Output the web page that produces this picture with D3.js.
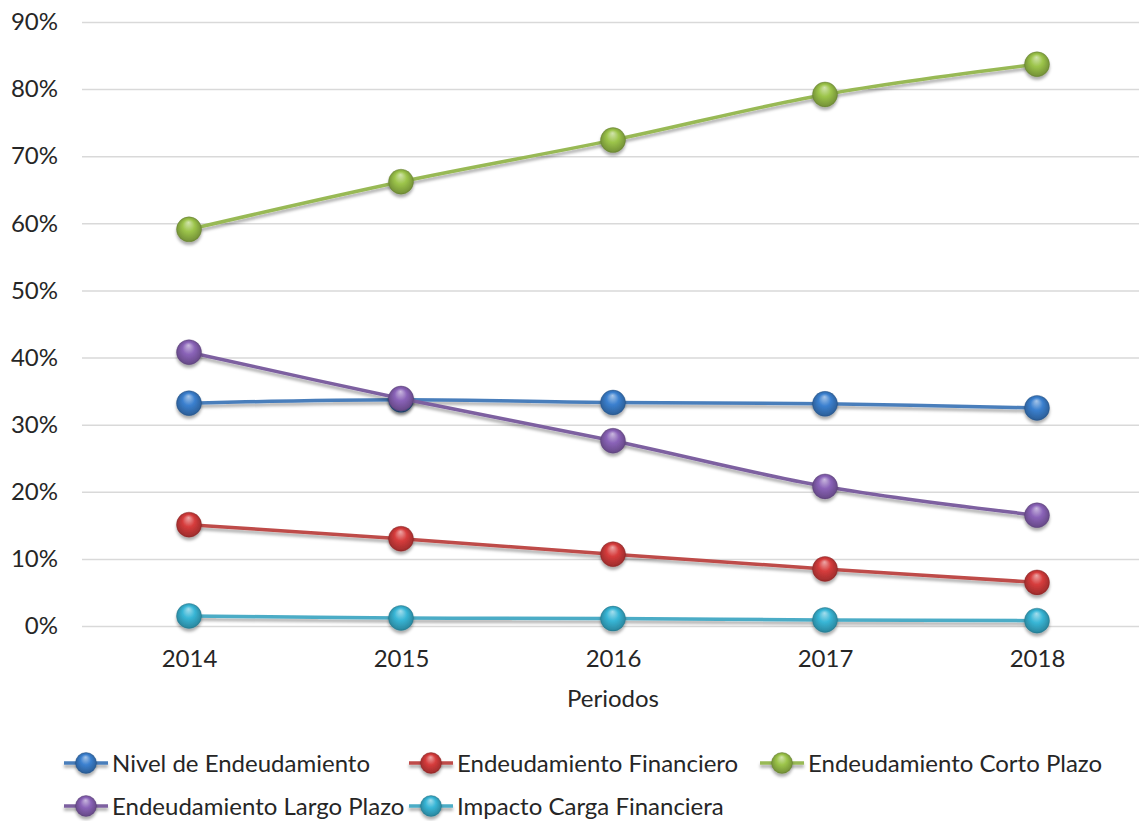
<!DOCTYPE html>
<html>
<head>
<meta charset="utf-8">
<script src="https://cdn.jsdelivr.net/npm/d3@7"></script>
<style>
  html, body { margin: 0; padding: 0; background: #fff; }
  svg { display: block; font-family: Lato, "Open Sans", sans-serif; }
</style>
</head>
<body>
<svg id="chart" width="1139" height="821"></svg>
<script>
// Periods on the x axis
const periods = ["2014", "2015", "2016", "2017", "2018"];

// Indicator values per period (fractions)
const nivelEndeudamiento = [0.332, 0.337, 0.333, 0.331, 0.325];
const endeudamientoFinanciero = [0.151, 0.130, 0.107, 0.085, 0.065];
const endeudamientoCortoPlazo = [0.591, 0.662, 0.724, 0.792, 0.837];
const endeudamientoLargoPlazo = [0.408, 0.339, 0.276, 0.208, 0.165];
const impactoCargaFinanciera = [0.015, 0.012, 0.011, 0.009, 0.008];

// Series names, in drawing order
const seriesNames = [
  "Nivel de Endeudamiento",
  "Endeudamiento Financiero",
  "Endeudamiento Corto Plazo",
  "Endeudamiento Largo Plazo",
  "Impacto Carga Financiera"
];

// Y axis ticks
const yTickValues = [0, 0.1, 0.2, 0.3, 0.4, 0.5, 0.6, 0.7, 0.8, 0.9];
const yTickLabels = ["0%", "10%", "20%", "30%", "40%", "50%", "60%", "70%", "80%", "90%"];

const xTitle = "Periodos";

// Styling
const lineColors = ["#4a7ebb", "#be4b48", "#98b954", "#7d60a0", "#4bacc6"];
const markerColors = ["#3b80cf", "#d63c3c", "#9cc44a", "#8a63b8", "#38b6d6"];

const series = [
  nivelEndeudamiento,
  endeudamientoFinanciero,
  endeudamientoCortoPlazo,
  endeudamientoLargoPlazo,
  impactoCargaFinanciera
].map((vals, i) => ({
  name: seriesNames[i],
  values: vals.map((v, j) => ({ period: periods[j], value: v })),
  line: lineColors[i],
  marker: markerColors[i]
}));

const W = 1139, H = 821;
const plot = { left: 83, right: 1143, top: 22, bottom: 626 };
const fontSize = 24;
const textColor = "#262626";

const svg = d3.select("#chart");
const defs = svg.append("defs");

// Soft shadow under lines and markers (user-space region so flat lines keep it)
const shadow = defs.append("filter")
  .attr("id", "shadow")
  .attr("filterUnits", "userSpaceOnUse")
  .attr("x", -50).attr("y", -50)
  .attr("width", W + 100).attr("height", H + 100);
shadow.append("feDropShadow")
  .attr("dx", 0).attr("dy", 3)
  .attr("stdDeviation", 1.8)
  .attr("flood-color", "#000")
  .attr("flood-opacity", 0.32);

// Spherical shading for the markers
series.forEach((s, i) => {
  const base = d3.color(s.marker);
  const g = defs.append("radialGradient")
    .attr("id", "ball" + i)
    .attr("cx", "50%").attr("cy", "50%").attr("r", "55%")
    .attr("fx", "48%").attr("fy", "22%");
  g.append("stop").attr("offset", "0%").attr("stop-color", d3.interpolateRgb(base, "#fff")(0.55));
  g.append("stop").attr("offset", "45%").attr("stop-color", base.formatHex());
  g.append("stop").attr("offset", "85%").attr("stop-color", base.darker(0.7).formatHex());
  g.append("stop").attr("offset", "100%").attr("stop-color", base.darker(1.2).formatHex());
});

const x = d3.scalePoint()
  .domain(periods)
  .range([plot.left, plot.right])
  .padding(0.5);

const y = d3.scaleLinear()
  .domain([0, 0.9])
  .range([plot.bottom, plot.top]);

// Horizontal gridlines with percentage labels
const yAxis = svg.append("g")
  .attr("transform", `translate(${plot.left - 1},0)`)
  .call(d3.axisLeft(y)
    .tickValues(yTickValues)
    .tickFormat((d, i) => yTickLabels[i])
    .tickSize(-(W - plot.left + 1))
    .tickPadding(24));
yAxis.select(".domain").remove();
yAxis.selectAll(".tick line")
  .attr("stroke", "#d9d9d9")
  .attr("stroke-width", 1.5);
yAxis.selectAll(".tick text")
  .attr("fill", textColor)
  .style("font-size", fontSize + "px")
  .style("font-family", "Lato, sans-serif");

// Category labels
const xAxis = svg.append("g")
  .attr("transform", `translate(0,${plot.bottom})`)
  .call(d3.axisBottom(x).tickSize(0).tickPadding(24));
xAxis.select(".domain").remove();
xAxis.selectAll(".tick text")
  .attr("fill", textColor)
  .style("font-size", fontSize + "px")
  .style("font-family", "Lato, sans-serif");

svg.append("text")
  .attr("x", (plot.left + plot.right) / 2)
  .attr("y", 707)
  .attr("text-anchor", "middle")
  .attr("fill", textColor)
  .style("font-size", fontSize + "px")
  .text(xTitle);

// Lines and markers
const line = d3.line()
  .x(d => x(d.period))
  .y(d => y(d.value))
  .curve(d3.curveCatmullRom.alpha(0.5));

series.forEach((s, i) => {
  const g = svg.append("g").attr("class", "series");
  g.append("path")
    .datum(s.values)
    .attr("d", line)
    .attr("fill", "none")
    .attr("stroke", s.line)
    .attr("stroke-width", 3.5)
    .attr("stroke-linejoin", "round")
    .attr("filter", "url(#shadow)");
  g.selectAll("circle")
    .data(s.values)
    .join("circle")
    .attr("cx", d => x(d.period))
    .attr("cy", d => y(d.value))
    .attr("r", 12.5)
    .attr("fill", `url(#ball${i})`)
    .attr("stroke", d3.color(s.marker).darker(1.3).formatHex())
    .attr("stroke-opacity", 0.5)
    .attr("stroke-width", 0.8)
    .attr("filter", "url(#shadow)");
});

// Legend: three columns, two rows
const legendCols = [64, 409, 760];
const legendRows = [763, 806];
const legend = svg.append("g").attr("class", "legend");
series.forEach((s, i) => {
  const cx = legendCols[i % 3];
  const cy = legendRows[Math.floor(i / 3)];
  const item = legend.append("g").attr("transform", `translate(${cx},${cy})`);
  item.append("line")
    .attr("x1", 0).attr("x2", 44)
    .attr("y1", 0).attr("y2", 0)
    .attr("stroke", s.line)
    .attr("stroke-width", 3.5)
    .attr("filter", "url(#shadow)");
  item.append("circle")
    .attr("cx", 22).attr("cy", 0).attr("r", 10.5)
    .attr("fill", `url(#ball${i})`)
    .attr("stroke", d3.color(s.marker).darker(1.3).formatHex())
    .attr("stroke-opacity", 0.5)
    .attr("stroke-width", 0.8)
    .attr("filter", "url(#shadow)");
  item.append("text")
    .attr("x", 48).attr("y", 8.5)
    .attr("fill", textColor)
    .style("font-size", fontSize + "px")
    .text(s.name);
});
</script>
</body>
</html>
